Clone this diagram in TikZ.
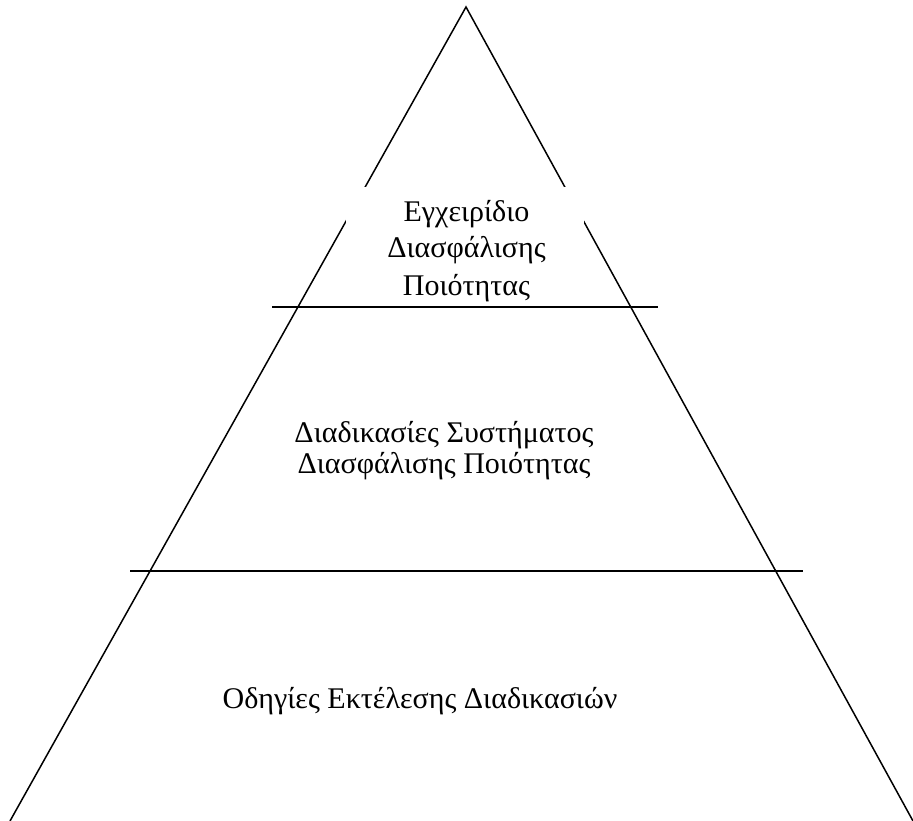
\documentclass[tikz,border=0pt]{standalone}
\usepackage{fontspec}
\setmainfont{Liberation Serif}
\begin{document}
\begin{tikzpicture}[x=1pt,y=-1pt,
  edge/.style={line width=1.5pt, black},
  label/.style={anchor=base, font=\fontsize{30}{34}\selectfont, inner sep=0pt}]
\useasboundingbox (0,0) rectangle (913,821);
% triangle outline
\coordinate (apex) at (466,7);
\coordinate (bl) at (10,821);
\coordinate (br) at (913,821);
\draw[edge] (bl) -- (apex) -- (br);
% white title box covering the sides
\node[fill=white, inner sep=0pt, minimum width=238pt, minimum height=118pt] (manual) at (465,246) {};
\node[label] (m1) at (466.5,222) {Εγχειρίδιο};
\node[label] (m2) at (466.5,258) {Διασφάλισης};
\node[label] (m3) at (466.5,295) {Ποιότητας};
% dividing lines
\coordinate (d1l) at (272,307);
\coordinate (d1r) at (658,307);
\coordinate (d2l) at (130,571);
\coordinate (d2r) at (803,571);
\draw[edge] (d1l) -- (d1r);
\draw[edge] (d2l) -- (d2r);
% level texts
\node[label] (p1) at (444,442) {Διαδικασίες Συστήματος};
\node[label] (p2) at (444,473) {Διασφάλισης Ποιότητας};
\node[label] (instr) at (420,708) {Οδηγίες Εκτέλεσης Διαδικασιών};
\end{tikzpicture}
\end{document}
